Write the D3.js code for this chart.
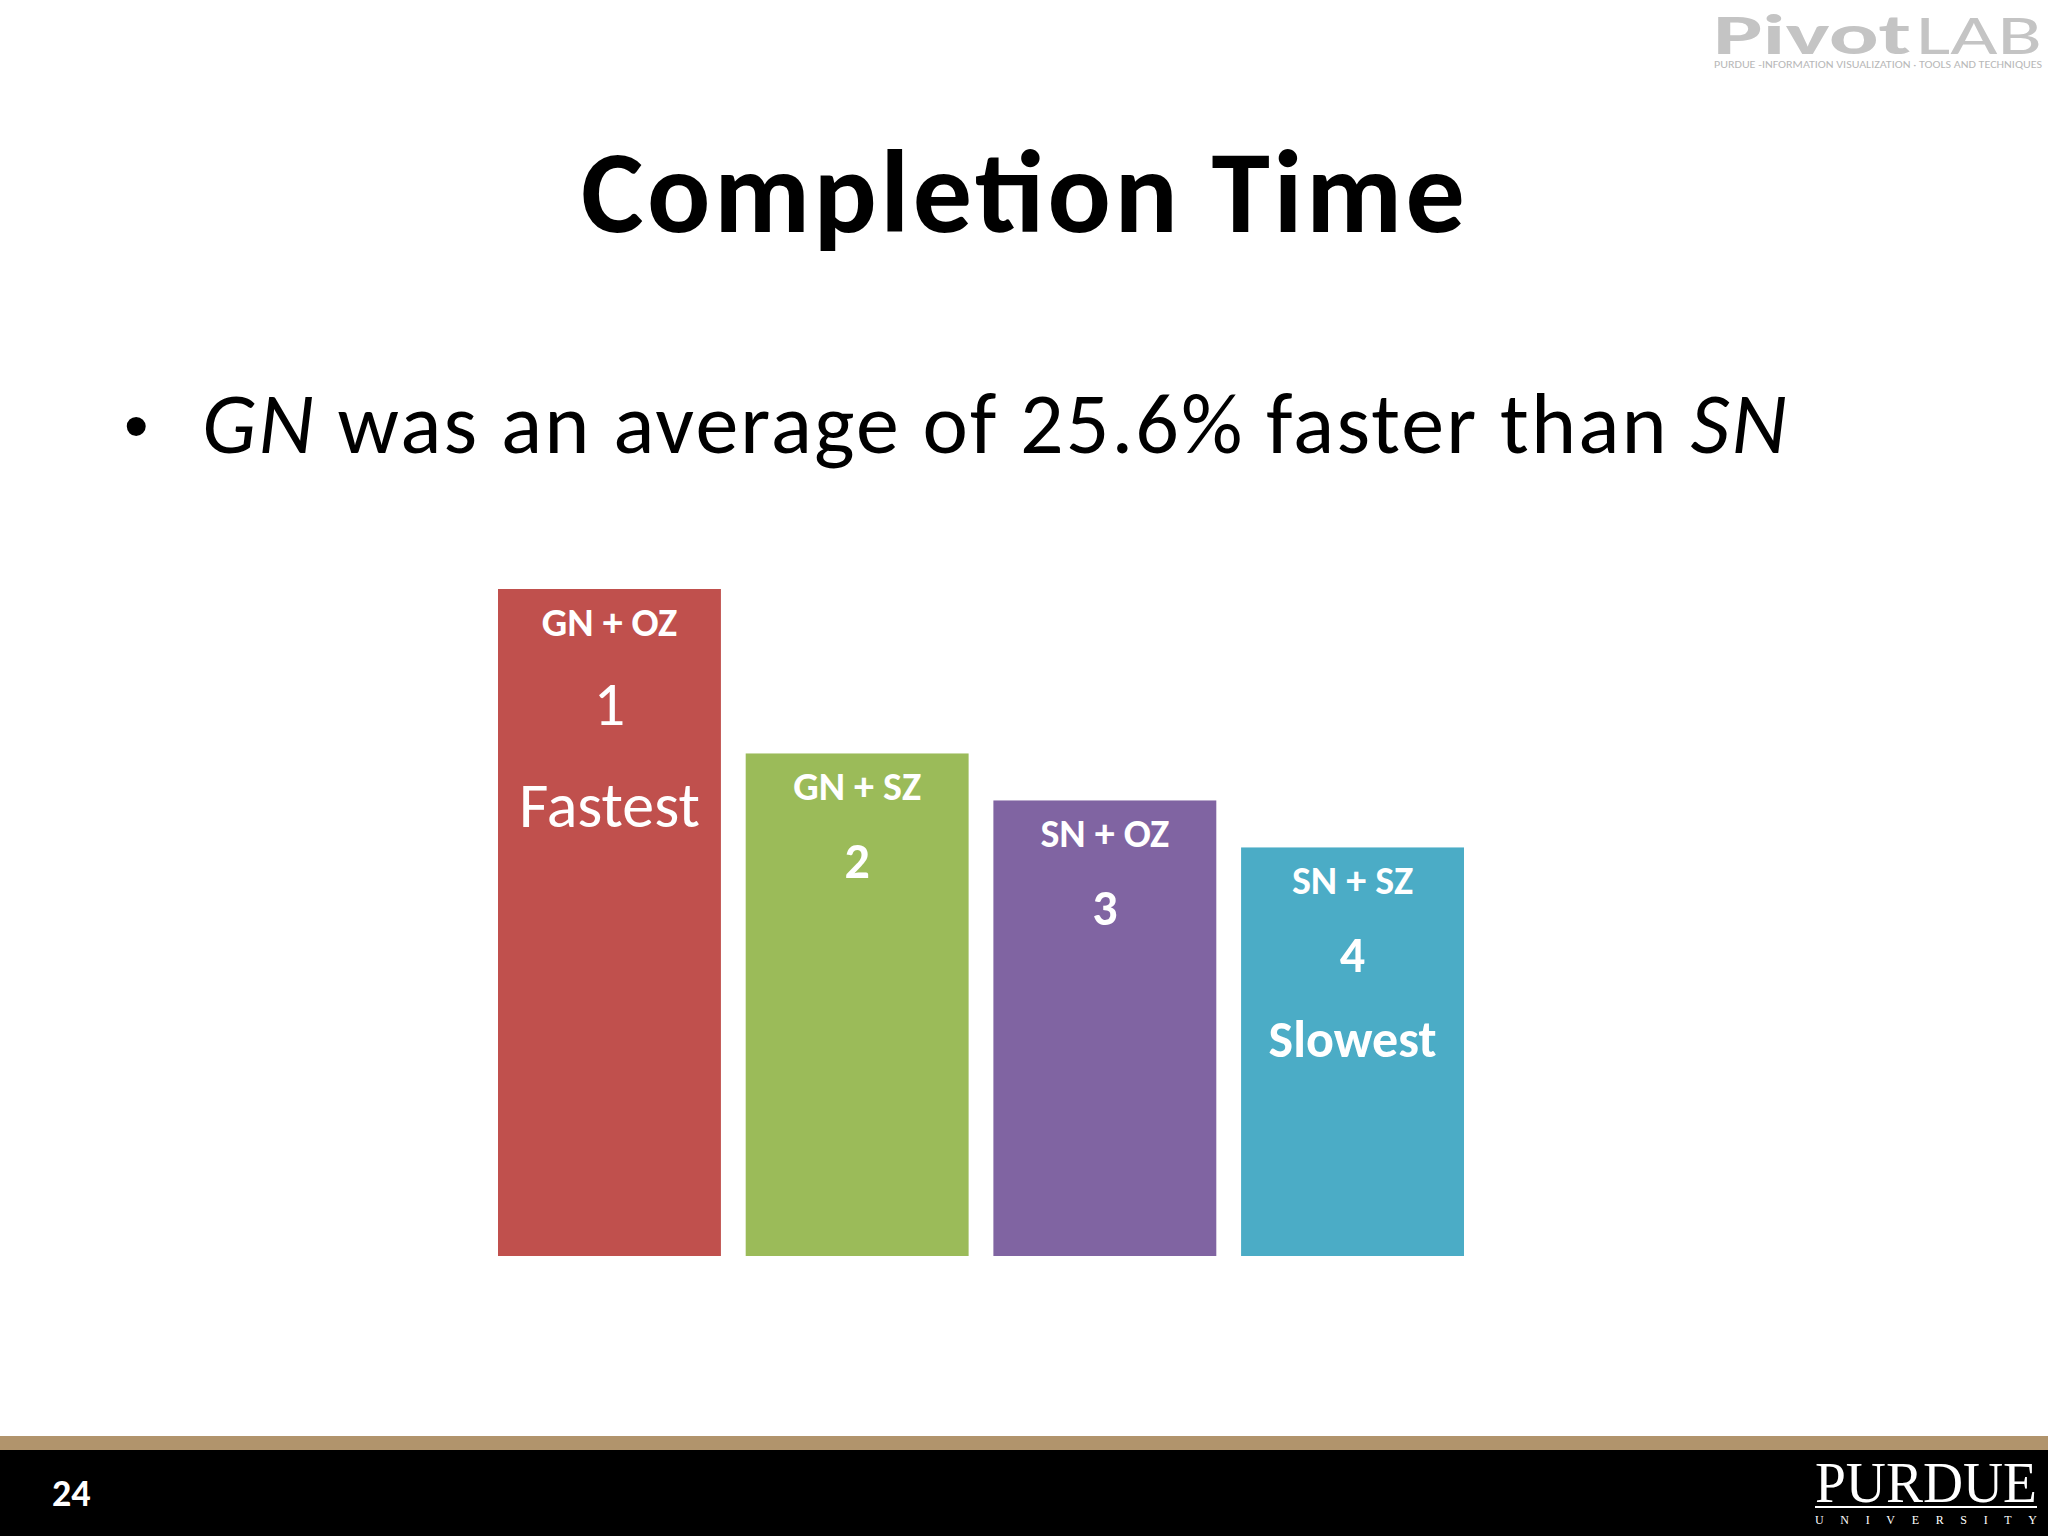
<!DOCTYPE html>
<html>
<head>
<meta charset="utf-8">
<script src="https://cdn.jsdelivr.net/npm/d3@7"></script>
<style>
  body { margin: 0; background: #fff; }
  svg { display: block; font-family: Carlito, Calibri, "Open Sans", sans-serif; }
</style>
</head>
<body>
<div id="chart"></div>
<script>
// bar data (relative heights)
const categories = ['GN + OZ', 'GN + SZ', 'SN + OZ', 'SN + SZ'];
const values = [511, 385, 349, 313];
const ranks = ['1', '2', '3', '4'];
const notes = ['Fastest', '', '', 'Slowest'];
const colors = ['#C0504D', '#9BBB59', '#8064A2', '#4BACC6'];

const W = 2048, H = 1536;
const svg = d3.select('#chart').append('svg')
  .attr('width', W).attr('height', H);

// PivotLAB logo
svg.append('text').attr('x', 1713).attr('y', 54)
  .attr('fill', '#c4c4c4').style('font-size', '56px').style('font-weight', 'bold')
  .attr('textLength', 198).attr('lengthAdjust', 'spacingAndGlyphs').text('Pivot');
svg.append('text').attr('x', 1916).attr('y', 54)
  .attr('fill', '#c4c4c4').style('font-size', '56px').style('font-weight', '300')
  .attr('textLength', 126).attr('lengthAdjust', 'spacingAndGlyphs').text('LAB');
svg.append('text').attr('x', 1714).attr('y', 68)
  .attr('fill', '#b8b8b8').style('font-size', '10px')
  .attr('textLength', 328).attr('lengthAdjust', 'spacingAndGlyphs')
  .text('PURDUE -INFORMATION VISUALIZATION · TOOLS AND TECHNIQUES');

// title + bullet
svg.append('text').attr('x', 1023).attr('y', 232).attr('text-anchor', 'middle')
  .style('font-weight', 'bold').style('font-size', '118px')
  .attr('textLength', 884).text('Completion Time');
svg.append('text').attr('x', 124).attr('y', 450)
  .style('font-family', '"Liberation Sans", sans-serif').style('font-size', '70px').text('•');
const bullet = svg.append('text').attr('x', 202).attr('y', 453)
  .style('font-size', '86px').attr('textLength', 1585);
bullet.append('tspan').style('font-style', 'italic').text('GN');
bullet.append('tspan').text(' was an average of 25.6% faster than ');
bullet.append('tspan').style('font-style', 'italic').text('SN');

// bars
const x = d3.scaleBand().domain(categories).range([498, 1464]).paddingInner(0.1);
const y = d3.scaleLinear().domain([0, d3.max(values)]).range([1256, 589]);

const g = svg.selectAll('.bar').data(categories).enter().append('g').attr('class', 'bar');
g.append('rect')
  .attr('x', d => x(d)).attr('width', x.bandwidth())
  .attr('y', (d, i) => y(values[i])).attr('height', (d, i) => y(0) - y(values[i]))
  .attr('fill', (d, i) => colors[i]);
const cx = d => x(d) + x.bandwidth() / 2;
g.append('text').attr('x', cx).attr('y', (d, i) => y(values[i]) + 47)
  .attr('text-anchor', 'middle').attr('fill', '#fff')
  .style('font-weight', 'bold').style('font-size', '40px').text(d => d);
g.append('text').attr('x', cx)
  .attr('y', (d, i) => y(values[i]) + (i === 0 ? 136 : 125))
  .attr('text-anchor', 'middle').attr('fill', '#fff')
  .style('font-weight', (d, i) => i === 0 ? 'normal' : 'bold')
  .style('font-size', (d, i) => i === 0 ? '62px' : '50px')
  .text((d, i) => ranks[i]);
g.append('text').attr('x', cx)
  .attr('y', (d, i) => y(values[i]) + (i === 0 ? 238 : 210))
  .attr('text-anchor', 'middle').attr('fill', '#fff')
  .style('font-weight', (d, i) => i === 0 ? 'normal' : 'bold')
  .style('font-size', (d, i) => i === 0 ? '64px' : '52px')
  .text((d, i) => notes[i]);

// footer
svg.append('rect').attr('x', 0).attr('y', 1436).attr('width', W).attr('height', 15).attr('fill', '#B1946C');
svg.append('rect').attr('x', 0).attr('y', 1450).attr('width', W).attr('height', 86).attr('fill', '#000');
svg.append('text').attr('x', 52).attr('y', 1506).attr('fill', '#fff')
  .style('font-weight', 'bold').style('font-size', '38px').text('24');
svg.append('text').attr('x', 1815).attr('y', 1502).attr('fill', '#fff')
  .style('font-family', '"Liberation Serif", serif').style('font-size', '58px')
  .attr('textLength', 222).attr('lengthAdjust', 'spacingAndGlyphs').text('PURDUE');
svg.append('rect').attr('x', 1815).attr('y', 1506).attr('width', 222).attr('height', 2).attr('fill', '#fff');
svg.append('text').attr('x', 1815).attr('y', 1524).attr('fill', '#fff')
  .style('font-family', '"Liberation Serif", serif').style('font-size', '12px')
  .attr('textLength', 222).text('UNIVERSITY');
</script>
</body>
</html>
